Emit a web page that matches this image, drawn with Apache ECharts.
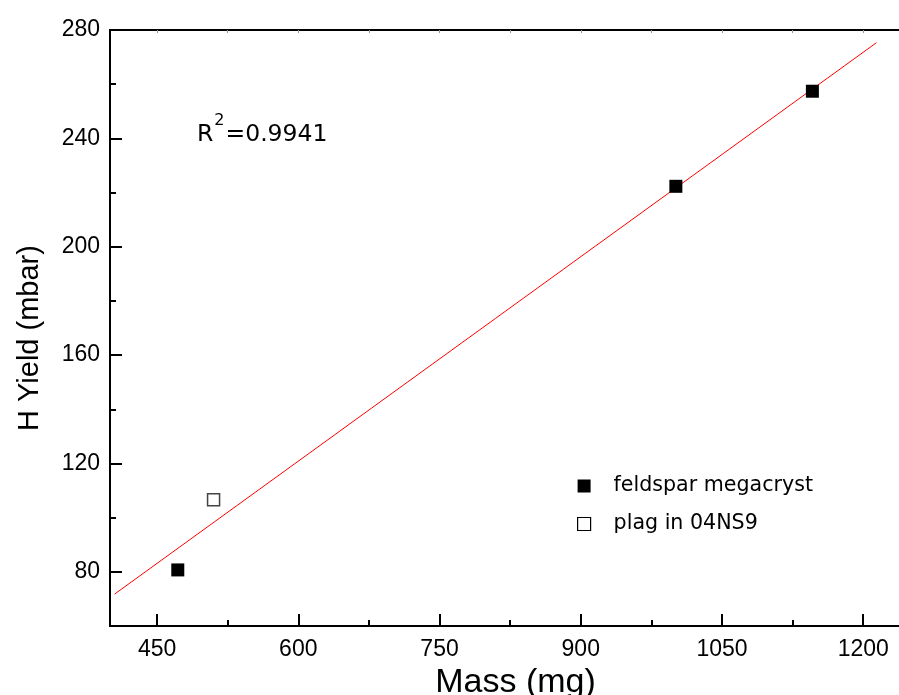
<!DOCTYPE html>
<html>
<head>
<meta charset="utf-8">
<script src="https://cdn.jsdelivr.net/npm/echarts@6/dist/echarts.min.js"></script>
<style>html,body{margin:0;padding:0;background:#fff;}#c{width:899px;height:695px;}</style>
</head>
<body>
<div id="c"></div>
<script>
// Data
const feldsparMass = [472, 1001, 1146];
const feldsparYield = [80.7, 222.3, 257.4];
const plagMass = [510];
const plagYield = [106.6];
const fitMass = [405, 1214];
const fitYield = [71.8, 275.3];
const xMajorTicks = [450, 600, 750, 900, 1050, 1200];
const xMinorTicks = [525, 675, 825, 975, 1125];
const yMajorTicks = [80, 120, 160, 200, 240, 280];
const yMinorTicks = [100, 140, 180, 220, 260];
const seriesNames = ['feldspar megacryst', 'plag in 04NS9'];
const rSquared = '0.9941';

const zip = (a, b) => a.map((v, i) => [v, b[i]]);
const X_MIN = 400, X_MAX = 1238, Y_MIN = 60, Y_MAX = 280;
const axisFont = 'Liberation Sans, Arial, sans-serif';
const noteFont = 'DejaVu Sans, Verdana, sans-serif';
const plain = v => String(v);

const chart = echarts.init(document.getElementById('c'), null, {renderer: 'canvas'});
const lineStyle = {color: '#000', width: 2};
chart.setOption({
  animation: false,
  backgroundColor: '#fff',
  grid: {left: 110, top: 30, right: 0, bottom: 69, containLabel: false, outerBoundsMode: 'none'},
  title: {
    left: 192, top: 108,
    text: '{a|R}{s|2}{a|=' + rSquared + '}',
    textStyle: {
      fontWeight: 'normal',
      rich: {
        a: {fontFamily: noteFont, fontSize: 23.5, fontWeight: 'normal', color: '#000', verticalAlign: 'bottom', lineHeight: 34},
        s: {fontFamily: noteFont, fontSize: 16, fontWeight: 'normal', color: '#000', verticalAlign: 'top', lineHeight: 34, padding: [0, 1, 0, 1]}
      }
    }
  },
  legend: {
    left: 572, top: 469, orient: 'vertical',
    itemWidth: 13, itemHeight: 13, itemGap: 14,
    selectedMode: false,
    data: [
      {name: seriesNames[0], icon: 'rect', itemStyle: {color: '#000', borderWidth: 0}},
      {name: seriesNames[1], icon: 'rect', itemStyle: {color: '#fff', borderColor: '#000', borderWidth: 1.2}}
    ],
    textStyle: {fontFamily: noteFont, fontSize: 20.6, color: '#000', lineHeight: 24, padding: [0, 0, 0, 18]}
  },
  xAxis: [
    {
      type: 'value', position: 'bottom', min: X_MIN, max: X_MAX,
      name: 'Mass (mg)', nameLocation: 'middle', nameGap: 33,
      nameTextStyle: {fontFamily: axisFont, fontSize: 34, color: '#000', padding: [0, 0, 0, 22]},
      axisLine: {show: true, onZero: false, lineStyle},
      axisTick: {show: true, inside: true, length: 12, lineStyle, customValues: xMajorTicks},
      axisLabel: {show: true, fontFamily: axisFont, fontSize: 23, color: '#000', margin: 12, customValues: xMajorTicks, formatter: plain},
      splitLine: {show: false}
    },
    {
      type: 'value', position: 'bottom', min: X_MIN, max: X_MAX,
      axisLine: {show: false},
      axisTick: {show: true, inside: true, length: 6, lineStyle, customValues: xMinorTicks},
      axisLabel: {show: false},
      splitLine: {show: false}
    },
    {
      type: 'value', position: 'top', min: X_MIN, max: X_MAX,
      axisLine: {show: true, onZero: false, lineStyle},
      axisTick: {show: true, inside: true, length: 3, lineStyle: {color: '#999', width: 1}, customValues: xMajorTicks.concat(xMinorTicks)},
      axisLabel: {show: false},
      splitLine: {show: false}
    }
  ],
  yAxis: [
    {
      type: 'value', position: 'left', min: Y_MIN, max: Y_MAX,
      name: 'H Yield (mbar)', nameLocation: 'middle', nameGap: 66,
      nameTextStyle: {fontFamily: axisFont, fontSize: 29, color: '#000', padding: [0, 20, 0, 0]},
      axisLine: {show: true, onZero: false, lineStyle},
      axisTick: {show: true, inside: true, length: 12, lineStyle, customValues: yMajorTicks},
      axisLabel: {show: true, fontFamily: axisFont, fontSize: 23, color: '#000', margin: 10, customValues: yMajorTicks, formatter: plain},
      splitLine: {show: false}
    },
    {
      type: 'value', position: 'left', min: Y_MIN, max: Y_MAX,
      axisLine: {show: false},
      axisTick: {show: true, inside: true, length: 6, lineStyle, customValues: yMinorTicks},
      axisLabel: {show: false},
      splitLine: {show: false}
    }
  ],
  series: [
    {
      name: 'fit', type: 'line', xAxisIndex: 0, yAxisIndex: 0,
      data: zip(fitMass, fitYield), showSymbol: false, symbol: 'none', silent: true,
      lineStyle: {color: '#ff0000', width: 1}, z: 1
    },
    {
      name: seriesNames[0], type: 'scatter', xAxisIndex: 0, yAxisIndex: 0,
      data: zip(feldsparMass, feldsparYield), symbol: 'rect', symbolSize: 13,
      itemStyle: {color: '#000', borderWidth: 0, opacity: 1}, z: 3
    },
    {
      name: seriesNames[1], type: 'scatter', xAxisIndex: 0, yAxisIndex: 0,
      data: zip(plagMass, plagYield), symbol: 'rect', symbolSize: 12,
      itemStyle: {color: '#fff', borderColor: '#444', borderWidth: 1.5, opacity: 1}, z: 3
    }
  ]
});
</script>
</body>
</html>
